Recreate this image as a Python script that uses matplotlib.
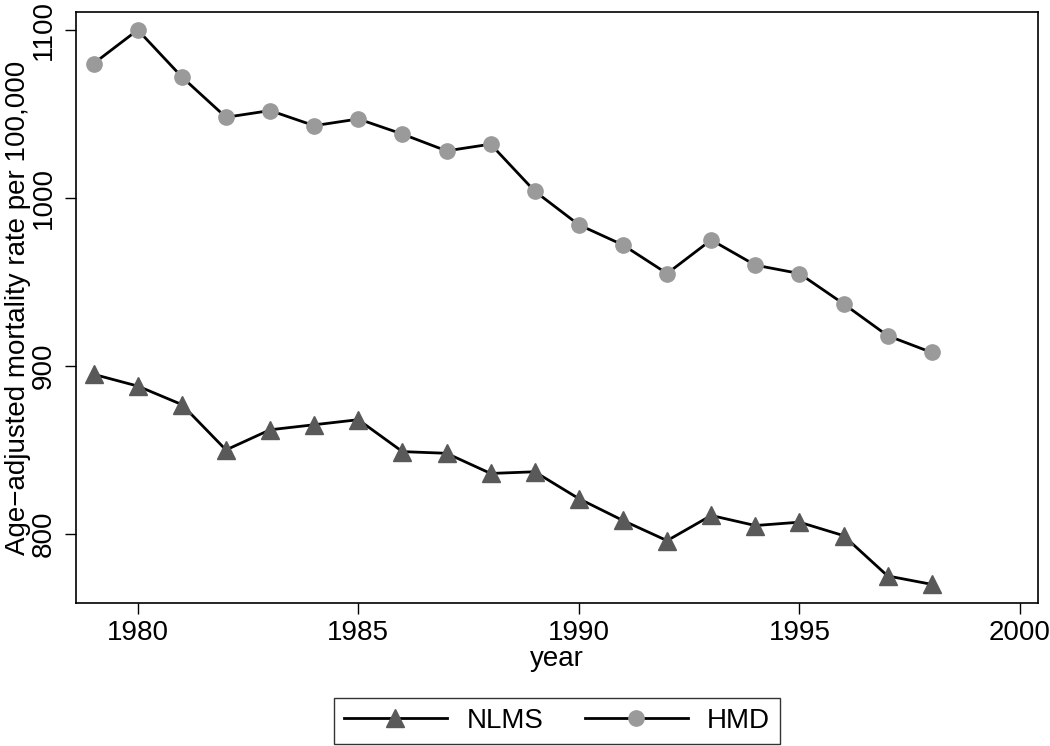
import matplotlib
matplotlib.use("Agg")
import matplotlib.pyplot as plt

plt.rcParams['font.family'] = ['Liberation Sans', 'DejaVu Sans']

years = list(range(1979, 1999))
nlms = [895, 888, 877, 850, 862, 865, 868, 849, 848, 836,
        837, 821, 808, 796, 811, 805, 807, 799, 775, 770]
hmd = [1080, 1100, 1072, 1048, 1052, 1043, 1047, 1038, 1028, 1032,
       1004, 984, 972, 955, 975, 960, 955, 937, 918, 908]

x_ticks = [1980, 1985, 1990, 1995, 2000]
y_ticks = [800, 900, 1000, 1100]

fs = 20

fig = plt.figure(figsize=(10.5, 7.46), dpi=100)
ax_pos = [0.0724, 0.1917, 0.9162, 0.7923]
ax = fig.add_axes(ax_pos)

ax.plot(years, nlms, color='black', lw=2, marker='^', markersize=13,
        markerfacecolor='#595959', markeredgecolor='#595959', label='NLMS')
ax.plot(years, hmd, color='black', lw=2, marker='o', markersize=11,
        markerfacecolor='#9a9a9a', markeredgecolor='#9a9a9a', label='HMD')

ax.set_xlim(1978.6, 2000.41)
ax.set_ylim(758.9, 1110.7)
ax.set_xticks(x_ticks)
ax.set_yticks(y_ticks)
ax.tick_params(axis='both', direction='out', length=8, width=1, labelsize=fs)
ax.tick_params(axis='x', pad=4)
ax.tick_params(axis='y', pad=6)
for lab in ax.get_yticklabels():
    lab.set_rotation(90)
    lab.set_va('center')
for s in ax.spines.values():
    s.set_linewidth(1.2)

ax.set_xlabel('year', fontsize=fs, labelpad=0)
ax.set_ylabel('Age\u2212adjusted mortality rate per 100,000', fontsize=fs, labelpad=0)

# legend centred under the plot area, like Stata
leg = fig.legend(loc='lower center', bbox_to_anchor=(ax_pos[0] + ax_pos[2] / 2, 0.003),
                 ncol=2, fontsize=fs, handlelength=3.7, handletextpad=0.7,
                 columnspacing=1.5, fancybox=False, frameon=True, borderpad=0.35,
                 borderaxespad=0)
leg.get_frame().set_edgecolor('black')
leg.get_frame().set_linewidth(1)

fig.savefig('out.png', dpi=100)
